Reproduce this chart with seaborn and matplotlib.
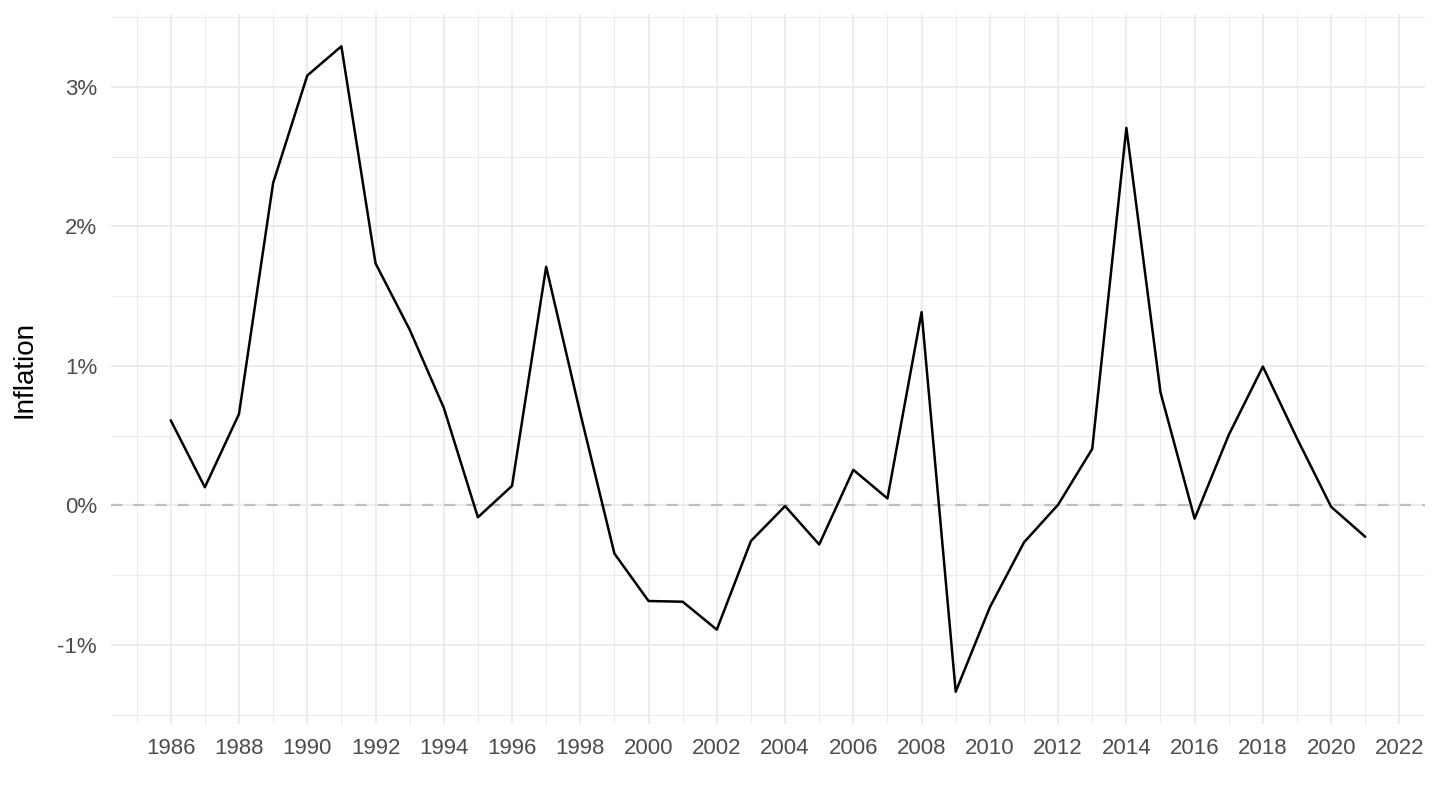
import matplotlib
matplotlib.use("Agg")
import matplotlib.pyplot as plt
import seaborn as sns
import pandas as pd
import numpy as np
from matplotlib.ticker import FixedLocator, FuncFormatter

years = list(range(1986, 2022))
inflation = [0.61, 0.13, 0.655, 2.31, 3.08, 3.29, 1.735, 1.26, 0.70, -0.085,
             0.14, 1.71, 0.66, -0.345, -0.685, -0.69, -0.89, -0.255, -0.005, -0.28,
             0.255, 0.05, 1.385, -1.335, -0.73, -0.265, 0.005, 0.405, 2.705, 0.81,
             -0.095, 0.505, 0.995, 0.48, -0.01, -0.225]

x_major = list(range(1986, 2023, 2))
x_minor = list(range(1985, 2022, 2))
y_major = [-1, 0, 1, 2, 3]
y_minor = [-1.5, -0.5, 0.5, 1.5, 2.5, 3.5]

df = pd.DataFrame({"year": years, "inflation": inflation})

sns.set_theme(style="white")
plt.rcParams['font.family'] = ['Liberation Sans', 'DejaVu Sans']

fig = plt.figure(figsize=(14.4, 8.1), dpi=100)
ax = fig.add_axes([111/1440, 1 - 724/810, (1425-111)/1440, (724-14)/810])

ax.xaxis.set_major_locator(FixedLocator(x_major))
ax.xaxis.set_minor_locator(FixedLocator(x_minor))
ax.yaxis.set_major_locator(FixedLocator(y_major))
ax.yaxis.set_minor_locator(FixedLocator(y_minor))
ax.yaxis.set_major_formatter(FuncFormatter(lambda v, p: f"{v:.0f}%"))

ax.grid(which="major", color="#EBEBEB", linewidth=1.3)
ax.grid(which="minor", color="#EBEBEB", linewidth=0.7)
ax.set_axisbelow(True)

ax.axhline(0, color="#BEBEBE", linewidth=1.6, dashes=(5, 5), zorder=1.5)

sns.lineplot(data=df, x="year", y="inflation", color="black", linewidth=1.8, ax=ax, zorder=3)

ax.margins(x=0.05, y=0.05)

for s in ax.spines.values():
    s.set_visible(False)

ax.tick_params(which="both", length=0)
ax.tick_params(axis="both", which="major", labelsize=16, labelcolor="#4D4D4D", pad=10)

ax.set_xlabel("")
ax.set_ylabel("Inflation", fontsize=20, color="black", va="center")
ax.yaxis.set_label_coords((25 - 111) / 1314, 0.5)

fig.savefig("out.png", dpi=100, facecolor="white")
